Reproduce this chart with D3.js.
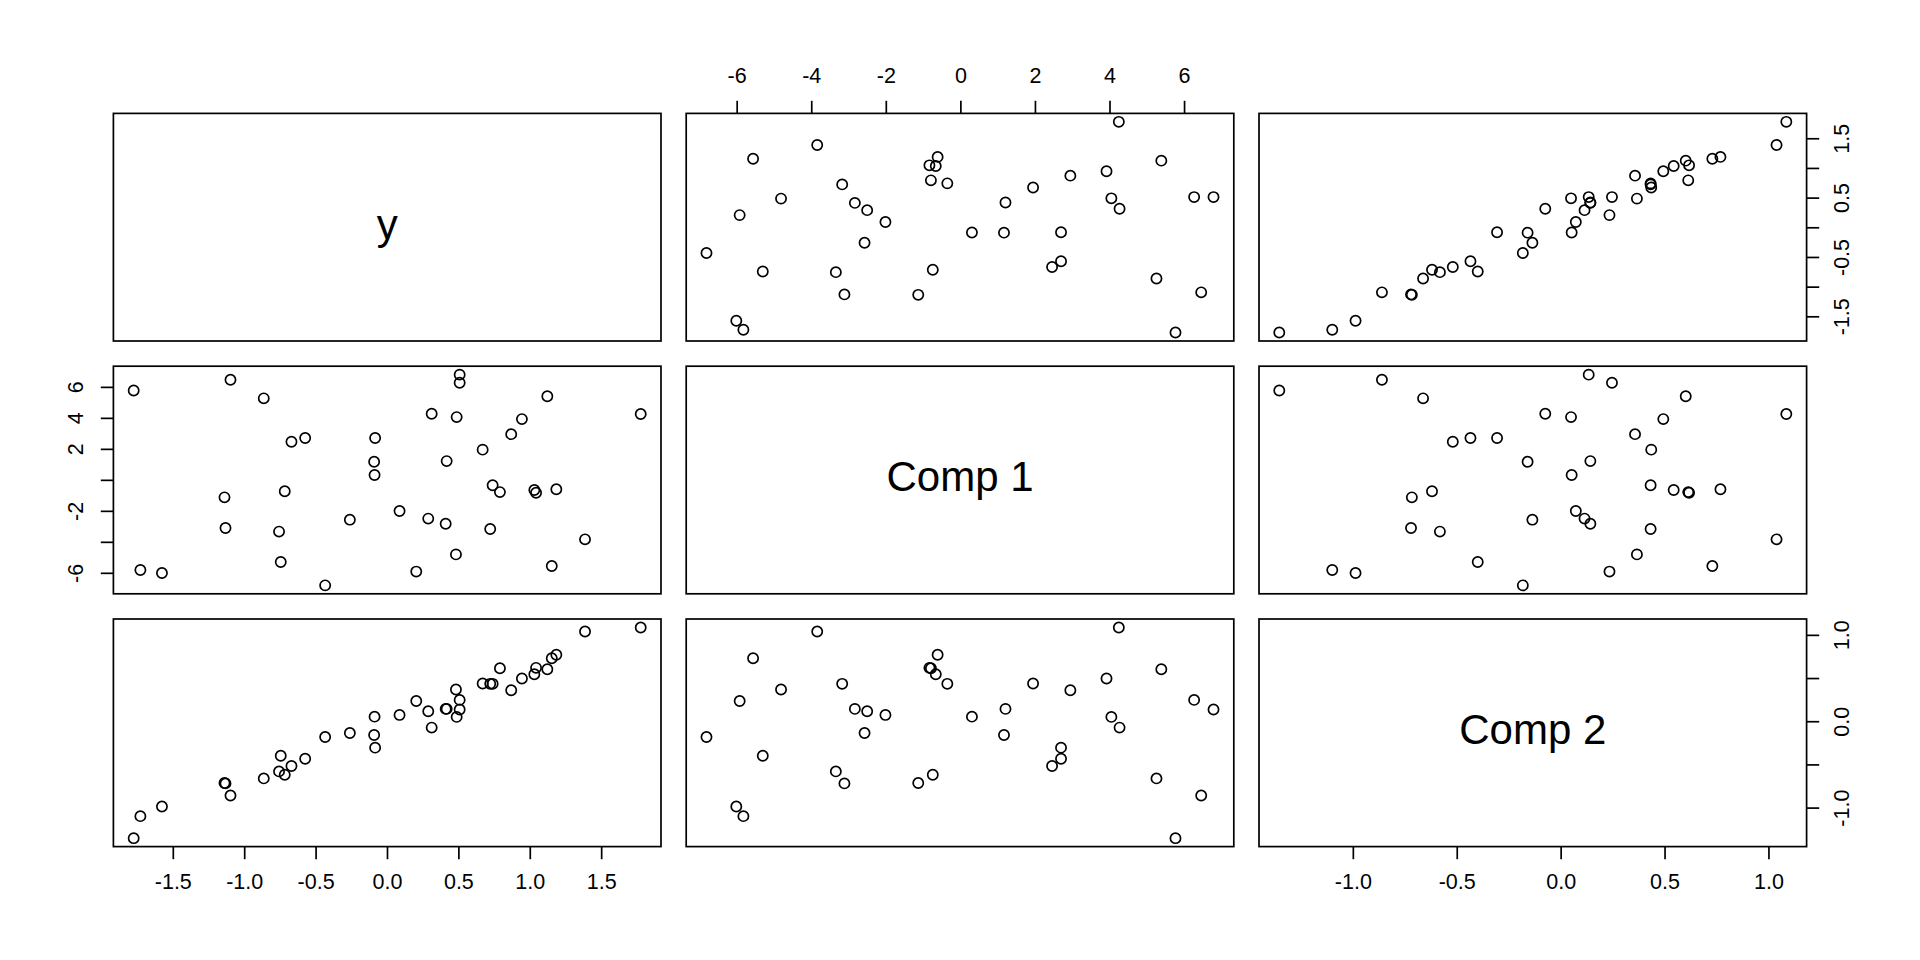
<!DOCTYPE html>
<html>
<head>
<meta charset="utf-8">
<script src="https://cdn.jsdelivr.net/npm/d3@7"></script>
<style>
  html, body { margin: 0; padding: 0; background: #fff; }
  svg { display: block; }
  text { font-family: "Liberation Sans", Arial, Helvetica, sans-serif; fill: #000; }
</style>
</head>
<body>
<svg id="chart" width="1920" height="960"></svg>
<script>
// ---- data ----
const varNames = ["y", "Comp 1", "Comp 2"];

const yVals = [-1.774,-1.727,-1.576,-1.138,-1.131,-1.096,-0.863,-0.756,-0.744,-0.716,
  -0.669,-0.573,-0.433,-0.260,-0.087,-0.090,-0.083,0.088,0.205,0.289,
  0.313,0.411,0.418,0.483,0.488,0.509,0.509,0.670,0.723,0.740,
  0.791,0.870,0.945,1.032,1.044,1.123,1.154,1.186,1.387,1.777];

const comp1Vals = [5.77,-5.82,-6.01,-1.13,-3.11,6.46,5.26,-3.34,-5.30,-0.74,
  2.46,2.70,-6.81,-2.57,0.31,1.17,2.70,-2.01,-5.92,-2.50,
  4.27,-2.83,1.21,-4.81,4.05,6.79,6.27,1.95,-3.17,-0.35,
  -0.79,2.95,3.92,-0.66,-0.83,5.39,-5.56,-0.61,-3.84,4.25];

const comp2Vals = [-1.354,-1.099,-0.987,-0.716,-0.720,-0.860,-0.662,-0.581,-0.399,-0.619,
  -0.519,-0.434,-0.182,-0.136,0.053,-0.159,-0.306,0.073,0.235,0.115,
  -0.074,0.143,0.143,0.367,0.050,0.135,0.247,0.436,0.433,0.433,
  0.614,0.358,0.494,0.544,0.618,0.602,0.730,0.769,1.039,1.086];

// tick values and tick labels ("" = label omitted, as in the reference)
const yTicks = [-1.5,-1.0,-0.5,0.0,0.5,1.0,1.5];
const yTickLabelsBottom = ["-1.5","-1.0","-0.5","0.0","0.5","1.0","1.5"];
const yTickLabelsRight = ["-1.5","","-0.5","","0.5","","1.5"];

const comp1Ticks = [-6,-4,-2,0,2,4,6];
const comp1TickLabelsTop = ["-6","-4","-2","0","2","4","6"];
const comp1TickLabelsLeft = ["-6","","-2","","2","4","6"];

const comp2Ticks = [-1.0,-0.5,0.0,0.5,1.0];
const comp2TickLabelsBottom = ["-1.0","-0.5","0.0","0.5","1.0"];
const comp2TickLabelsRight = ["-1.0","","0.0","","1.0"];

// ---- layout (R pairs geometry) ----
const W = 1920, H = 960;
const L = 25.2;                 // one margin line
const n = 3;
const panelW = (W - 8 * L - n * L) / n;
const panelH = (H - 8 * L - n * L) / n;
const x0 = 4 * L + 0.5 * L;
const y0 = 4 * L + 0.5 * L;
const step = { x: panelW + L, y: panelH + L };
const tickLen = 12.6;
const axisFont = 21.5;
const labelFont = 42;
const lw = 1.7;

const vars = [
  { name: varNames[0], values: yVals, ticks: yTicks, lab13: yTickLabelsBottom, lab24: yTickLabelsRight },
  { name: varNames[1], values: comp1Vals, ticks: comp1Ticks, lab13: comp1TickLabelsTop, lab24: comp1TickLabelsLeft },
  { name: varNames[2], values: comp2Vals, ticks: comp2Ticks, lab13: comp2TickLabelsBottom, lab24: comp2TickLabelsRight }
];

function rDomain(vals) {
  const [a, b] = d3.extent(vals);
  const e = (b - a) * 0.04;
  return [a - e, b + e];
}

const svg = d3.select("#chart");

vars.forEach(v => {
  v.domain = rDomain(v.values);
});

function labelFor(v, labels) {
  return d => {
    const i = v.ticks.indexOf(d);
    return i >= 0 ? labels[i] : "";
  };
}

for (let i = 0; i < n; i++) {       // row
  for (let j = 0; j < n; j++) {     // column
    const px = x0 + j * step.x;
    const py = y0 + i * step.y;
    const vx = vars[j], vy = vars[i];
    const xs = d3.scaleLinear().domain(vx.domain).range([px, px + panelW]);
    const ys = d3.scaleLinear().domain(vy.domain).range([py + panelH, py]);
    const g = svg.append("g");

    if (i === j) {
      g.append("text")
        .attr("x", px + panelW / 2)
        .attr("y", py + panelH / 2)
        .attr("dy", "0.27em")
        .attr("text-anchor", "middle")
        .style("font-size", labelFont + "px")
        .text(vx.name);
    } else {
      g.selectAll("circle")
        .data(d3.range(vx.values.length))
        .join("circle")
        .attr("cx", k => xs(vx.values[k]))
        .attr("cy", k => ys(vy.values[k]))
        .attr("r", 5.1)
        .attr("fill", "none")
        .attr("stroke", "#000")
        .attr("stroke-width", lw);
    }

    // axes (R pairs alternation)
    const row = i + 1, col = j + 1;
    if (row === 1 && col % 2 === 0) {           // top
      const ax = d3.axisTop(xs).tickValues(vx.ticks).tickSize(tickLen).tickPadding(0)
        .tickFormat(labelFor(vx, vx.lab13));
      const a = svg.append("g").attr("transform", `translate(0,${py})`).call(ax);
      a.select(".domain").remove();
      a.selectAll("text").attr("y", -(30.5)).attr("dy", "0");
    }
    if (row === n && col % 2 === 1) {           // bottom
      const ax = d3.axisBottom(xs).tickValues(vx.ticks).tickSize(tickLen).tickPadding(0)
        .tickFormat(labelFor(vx, vx.lab13));
      const a = svg.append("g").attr("transform", `translate(0,${py + panelH})`).call(ax);
      a.select(".domain").remove();
      a.selectAll("text").attr("y", 42).attr("dy", "0");
    }
    if (col === 1 && row % 2 === 0) {           // left
      const ax = d3.axisLeft(ys).tickValues(vy.ticks).tickSize(tickLen).tickPadding(0)
        .tickFormat(labelFor(vy, vy.lab24));
      const a = svg.append("g").attr("transform", `translate(${px},0)`).call(ax);
      a.select(".domain").remove();
      a.selectAll("text").attr("x", null).attr("y", null).attr("dy", "0")
        .attr("text-anchor", "middle")
        .attr("transform", "translate(-30.5,0) rotate(-90)");
    }
    if (col === n && row % 2 === 1) {           // right
      const ax = d3.axisRight(ys).tickValues(vy.ticks).tickSize(tickLen).tickPadding(0)
        .tickFormat(labelFor(vy, vy.lab24));
      const a = svg.append("g").attr("transform", `translate(${px + panelW},0)`).call(ax);
      a.select(".domain").remove();
      a.selectAll("text").attr("x", null).attr("y", null).attr("dy", "0")
        .attr("text-anchor", "middle")
        .attr("transform", "translate(42,0) rotate(-90)");
    }

    // panel box
    svg.append("rect")
      .attr("x", px).attr("y", py)
      .attr("width", panelW).attr("height", panelH)
      .attr("fill", "none").attr("stroke", "#000").attr("stroke-width", lw);
  }
}

svg.selectAll(".tick line").attr("stroke", "#000").attr("stroke-width", lw);
svg.selectAll(".tick text").style("font-size", axisFont + "px")
  .style("font-family", '"Liberation Sans", Arial, Helvetica, sans-serif').attr("fill", "#000");
</script>
</body>
</html>
